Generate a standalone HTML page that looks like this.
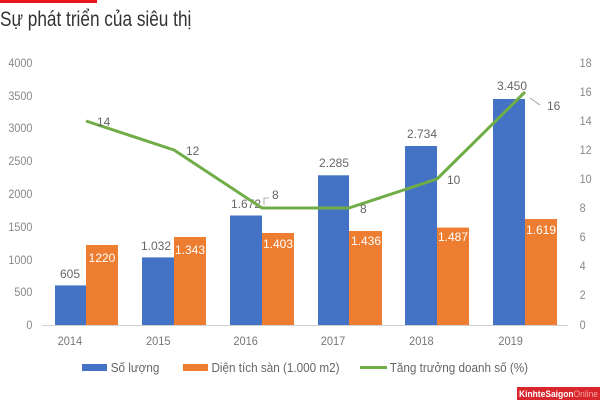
<!DOCTYPE html>
<html><head><meta charset="utf-8"><style>
html,body{margin:0;padding:0;background:#fff;width:600px;height:400px;overflow:hidden}
svg{display:block}
text{font-family:"Liberation Sans",sans-serif}
</style></head><body>
<svg width="600" height="400" viewBox="0 0 600 400">
<rect x="0" y="0" width="97" height="3" fill="#e8141b"/>
<text x="0" y="26" font-size="21" fill="#333" transform="scale(0.82,1)">Sự phát triển của siêu thị</text>
<g font-size="12" fill="#888" text-anchor="end" transform="scale(0.9,1)">
<text x="36" y="67">4000</text><text x="36" y="100">3500</text><text x="36" y="132">3000</text>
<text x="36" y="165">2500</text><text x="36" y="198">2000</text><text x="36" y="231">1500</text>
<text x="36" y="264">1000</text><text x="36" y="296">500</text><text x="36" y="329">0</text>
</g>
<g font-size="12" fill="#888" transform="scale(0.9,1)">
<text x="644" y="67">18</text><text x="644" y="96">16</text><text x="644" y="125">14</text>
<text x="644" y="154">12</text><text x="644" y="183">10</text><text x="644" y="212">8</text>
<text x="644" y="241">6</text><text x="644" y="270">4</text><text x="644" y="299">2</text>
<text x="644" y="329">0</text>
</g>
<line x1="42" y1="325.5" x2="568" y2="325.5" stroke="#d0d0d0" stroke-width="1"/>
<g fill="#4472c4">
<rect x="55" y="285.4" width="31" height="39.6"/>
<rect x="142" y="257.4" width="32" height="67.6"/>
<rect x="230" y="215.5" width="32" height="109.5"/>
<rect x="318" y="175.3" width="31" height="149.7"/>
<rect x="405" y="146" width="32" height="179"/>
<rect x="493" y="99" width="32" height="226"/>
</g>
<g fill="#ed7d31">
<rect x="86" y="245" width="32" height="80"/>
<rect x="174" y="237" width="32" height="88"/>
<rect x="262" y="233" width="32" height="92"/>
<rect x="349" y="231" width="33" height="94"/>
<rect x="437" y="227.6" width="32" height="97.4"/>
<rect x="525" y="219" width="32" height="106"/>
</g>
<g font-size="12" fill="#666" text-anchor="middle">
<text x="70" y="278">605</text><text x="156" y="250">1.032</text><text x="246" y="208">1.672</text>
<text x="334" y="167">2.285</text><text x="422" y="138">2.734</text><text x="512" y="90">3.450</text>
</g>
<g font-size="12" fill="#fff" text-anchor="middle">
<text x="102" y="262">1220</text><text x="190" y="254">1.343</text><text x="278" y="248">1.403</text>
<text x="366" y="245">1.436</text><text x="453" y="241">1.487</text><text x="541" y="234">1.619</text>
</g>
<polyline points="86,121 174,150 262,208 349,208 437,179 525,92" fill="none" stroke="#70ad47" stroke-width="3" stroke-linejoin="round"/>
<g font-size="12" fill="#666">
<text x="97" y="126">14</text><text x="186" y="155">12</text><text x="272" y="199">8</text>
<text x="360" y="213">8</text><text x="447" y="184">10</text><text x="547" y="110">16</text>
</g>
<polyline points="264,205 264,198 269,198" fill="none" stroke="#999" stroke-width="0.8"/>
<line x1="530" y1="98" x2="540" y2="105" stroke="#999" stroke-width="0.8"/>
<g font-size="12" fill="#777" text-anchor="middle" transform="scale(0.92,1)">
<text x="76" y="345">2014</text><text x="172" y="345">2015</text><text x="267" y="345">2016</text>
<text x="362" y="345">2017</text><text x="458" y="345">2018</text><text x="555" y="345">2019</text>
</g>
<rect x="82" y="364" width="25" height="7" fill="#4472c4"/>
<rect x="183" y="364" width="25" height="7" fill="#ed7d31"/>
<line x1="360" y1="367.5" x2="387" y2="367.5" stroke="#70ad47" stroke-width="3"/>
<g font-size="13" fill="#666" transform="scale(0.9,1)">
<text x="123" y="372">Số lượng</text>
<text x="235" y="372">Diện tích sàn (1.000 m2)</text>
<text x="433" y="372">Tăng trưởng doanh số (%)</text>
</g>
<rect x="517" y="387" width="83" height="13" fill="#d9262c"/>
<text x="519" y="397" font-size="9" fill="#fff" font-family="Liberation Serif,serif" font-weight="bold" transform="scale(1,1)" textLength="79" lengthAdjust="spacingAndGlyphs">KinhteSaigon<tspan fill="#f3a0a0" font-weight="normal">Online</tspan></text>
</svg>
</body></html>
